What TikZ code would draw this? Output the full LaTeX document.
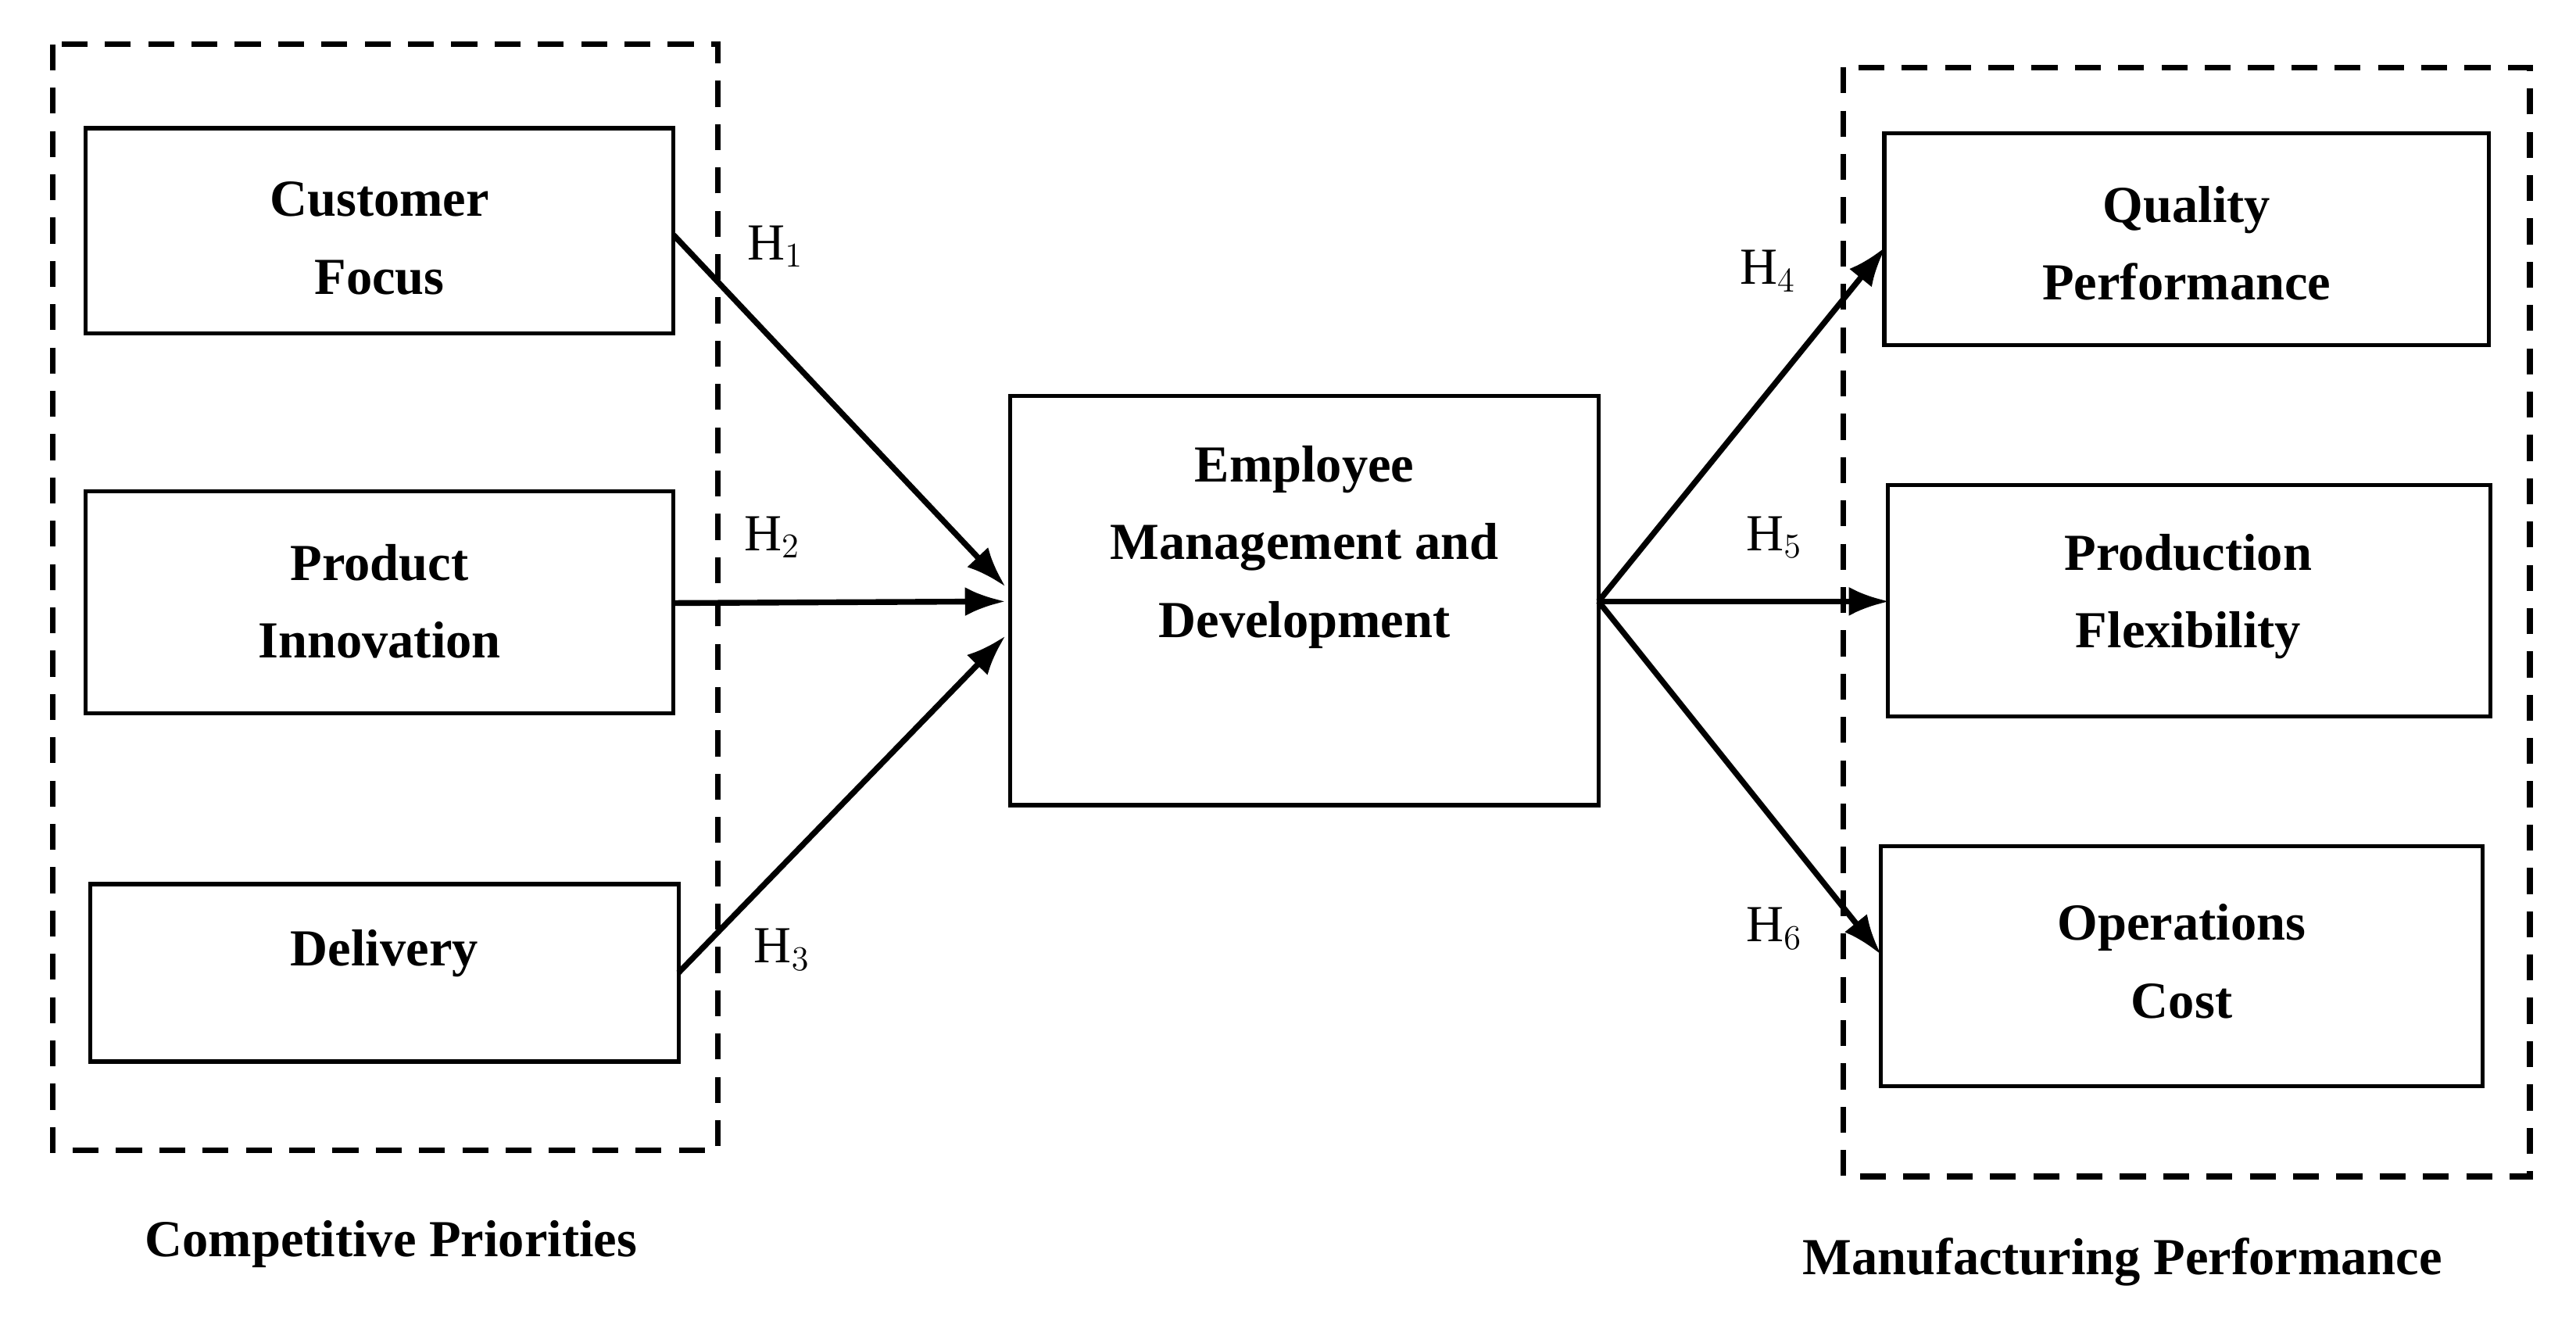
\documentclass[tikz,border=0pt]{standalone}
\usepackage{fontspec}
\setmainfont{Liberation Serif}
\usetikzlibrary{arrows.meta}
\begin{document}
\begin{tikzpicture}[x=0.02cm,y=-0.02cm,
  box/.style={draw,line width=1.4pt,fill=white},
  grp/.style={draw,line width=2pt,dash pattern=on 9pt off 6pt},
  txt/.style={font=\fontsize{18}{27}\selectfont\bfseries,align=center},
  hl/.style={font=\fontsize{18}{20}\selectfont},
  arr/.style={line width=2pt,-{Latex[length=14pt,width=10pt]}}]
\useasboundingbox (0,0) rectangle (1568,806);
\draw[grp] (32,27) rectangle (437,700);
\draw[grp] (1122,41) rectangle (1540,716);
\draw[box] (52,78) rectangle (410,203); \node[txt] (cf) at (231,145) {Customer\\Focus};
\draw[box] (52,299) rectangle (410,434); \node[txt] (pi) at (231,366) {Product\\Innovation};
\draw[box] (55,538) rectangle (413,646); \node[txt] (de) at (234,580) {Delivery};
\draw[box] (615,241) rectangle (973,490); \node[txt] (em) at (794,333) {Employee\\Management and\\Development};
\draw[box] (1147,81) rectangle (1515,210); \node[txt] (qp) at (1331,148) {Quality\\Performance};
\draw[box] (1149,295) rectangle (1516,436); \node[txt] (pf) at (1332,363) {Production\\Flexibility};
\draw[box] (1145,515) rectangle (1511,661); \node[txt] (oc) at (1328,585) {Operations\\Cost};
\coordinate (a1) at (410,143); \coordinate (a2) at (410,367); \coordinate (a3) at (413,592);
\coordinate (b1) at (612,357); \coordinate (b2) at (612,366); \coordinate (b3) at (612,387);
\coordinate (c) at (973,366);
\coordinate (d1) at (1148,150); \coordinate (d2) at (1150,366); \coordinate (d3) at (1145,581);
\draw[arr] (a1) -- (b1); \draw[arr] (a2) -- (b2); \draw[arr] (a3) -- (b3);
\draw[arr] (c) -- (d1); \draw[arr] (c) -- (d2); \draw[arr] (c) -- (d3);
\node[hl] (h1) at (472,150) {H$_1$};
\node[hl] (h2) at (470,327) {H$_2$};
\node[hl] (h3) at (476,578) {H$_3$};
\node[hl] (h4) at (1076,165) {H$_4$};
\node[hl] (h5) at (1080,327) {H$_5$};
\node[hl] (h6) at (1080,565) {H$_6$};
\node[txt] (lc) at (238,757) {Competitive Priorities};
\node[txt] (lm) at (1292,768) {Manufacturing Performance};
\end{tikzpicture}
\end{document}
